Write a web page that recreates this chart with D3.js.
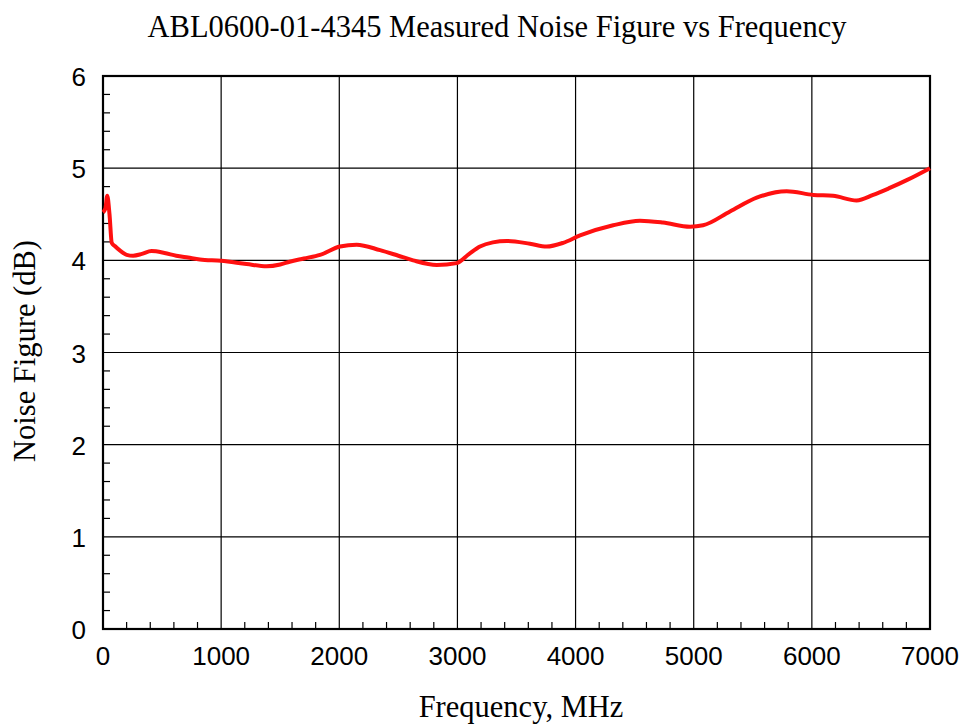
<!DOCTYPE html>
<html><head><meta charset="utf-8">
<script src="https://cdn.jsdelivr.net/npm/d3@7"></script>
<style>body{margin:0;background:#fff}</style>
</head><body><svg id="c" width="961" height="725"></svg>
<script>
const freq = [0, 20, 36, 55, 74, 100, 150, 200, 255, 330, 410, 520, 620, 720, 820, 1000, 1215, 1385, 1500, 1580, 1700, 1837, 2006, 2147, 2345, 2500, 2625, 2825, 2994, 3100, 3191, 3300, 3417, 3614, 3755, 3895, 4038, 4318, 4545, 4740, 4969, 5079, 5307, 5533, 5787, 6013, 6180, 6379, 6519, 6650, 6803, 7000];
const nf   = [4.52, 4.56, 4.70, 4.50, 4.19, 4.155, 4.10, 4.06, 4.05, 4.07, 4.10, 4.08, 4.05, 4.03, 4.01, 3.995, 3.96, 3.935, 3.955, 3.985, 4.02, 4.06, 4.15, 4.17, 4.11, 4.05, 4.00, 3.95, 3.97, 4.07, 4.15, 4.195, 4.21, 4.18, 4.15, 4.19, 4.27, 4.38, 4.43, 4.41, 4.365, 4.38, 4.53, 4.68, 4.75, 4.71, 4.70, 4.65, 4.71, 4.78, 4.87, 5.0];
const xTicks = [0, 1000, 2000, 3000, 4000, 5000, 6000, 7000];
const yTicks = [0, 1, 2, 3, 4, 5, 6];

const svg = d3.select("#c");
const L = 103, R = 930, T = 76, B = 629;
const x = d3.scaleLinear().domain([0, 7000]).range([L, R]);
const y = d3.scaleLinear().domain([0, 6]).range([B, T]);

// grid
svg.append("g").selectAll("line").data(xTicks.slice(1, -1)).join("line")
  .attr("x1", d => x(d)).attr("x2", d => x(d)).attr("y1", T).attr("y2", B)
  .attr("stroke", "#000").attr("stroke-width", 1.2);
svg.append("g").selectAll("line").data(yTicks.slice(1, -1)).join("line")
  .attr("x1", L).attr("x2", R).attr("y1", d => y(d)).attr("y2", d => y(d))
  .attr("stroke", "#000").attr("stroke-width", 1.2);

// minor ticks
const xMinor = d3.range(0, 7001, 200).filter(d => d % 1000 !== 0);
const yMinor = d3.range(0, 6.001, 0.2).filter(d => Math.abs(d - Math.round(d)) > 1e-6);
svg.append("g").selectAll("line").data(xMinor).join("line")
  .attr("x1", d => x(d)).attr("x2", d => x(d)).attr("y1", B).attr("y2", B - 7)
  .attr("stroke", "#000").attr("stroke-width", 1.2);
svg.append("g").selectAll("line").data(yMinor).join("line")
  .attr("x1", L).attr("x2", L + 7).attr("y1", d => y(d)).attr("y2", d => y(d))
  .attr("stroke", "#000").attr("stroke-width", 1.2);

// frame
svg.append("rect").attr("x", L).attr("y", T).attr("width", R - L).attr("height", B - T)
  .attr("fill", "none").attr("stroke", "#000").attr("stroke-width", 2.2);

// tick labels
svg.append("g").selectAll("text").data(xTicks).join("text")
  .attr("x", d => x(d)).attr("y", B + 36).attr("text-anchor", "middle")
  .attr("font-family", "Liberation Sans, Arial, sans-serif").attr("font-size", 26)
  .text(d => d);
svg.append("g").selectAll("text").data(yTicks).join("text")
  .attr("x", L - 17).attr("y", d => y(d) + 10).attr("text-anchor", "end")
  .attr("font-family", "Liberation Sans, Arial, sans-serif").attr("font-size", 26)
  .text(d => d);

// line
const data = freq.map((f, i) => [f, nf[i]]);
svg.append("path").datum(data)
  .attr("d", d3.line().x(d => x(d[0])).y(d => y(d[1])).curve(d3.curveMonotoneX))
  .attr("fill", "none").attr("stroke", "#ff1010").attr("stroke-width", 4)
  .attr("stroke-linejoin", "round");

// titles
svg.append("text").attr("x", 497).attr("y", 37).attr("text-anchor", "middle")
  .attr("font-family", "Liberation Serif, Times New Roman, serif").attr("font-size", 30.5)
  .text("ABL0600-01-4345 Measured Noise Figure vs Frequency");
svg.append("text").attr("x", 521).attr("y", 717).attr("text-anchor", "middle")
  .attr("font-family", "Liberation Serif, Times New Roman, serif").attr("font-size", 30.5)
  .text("Frequency, MHz");
svg.append("text").attr("transform", "translate(35,351) rotate(-90)").attr("text-anchor", "middle")
  .attr("font-family", "Liberation Serif, Times New Roman, serif").attr("font-size", 30.5)
  .text("Noise Figure (dB)");
</script></body></html>
